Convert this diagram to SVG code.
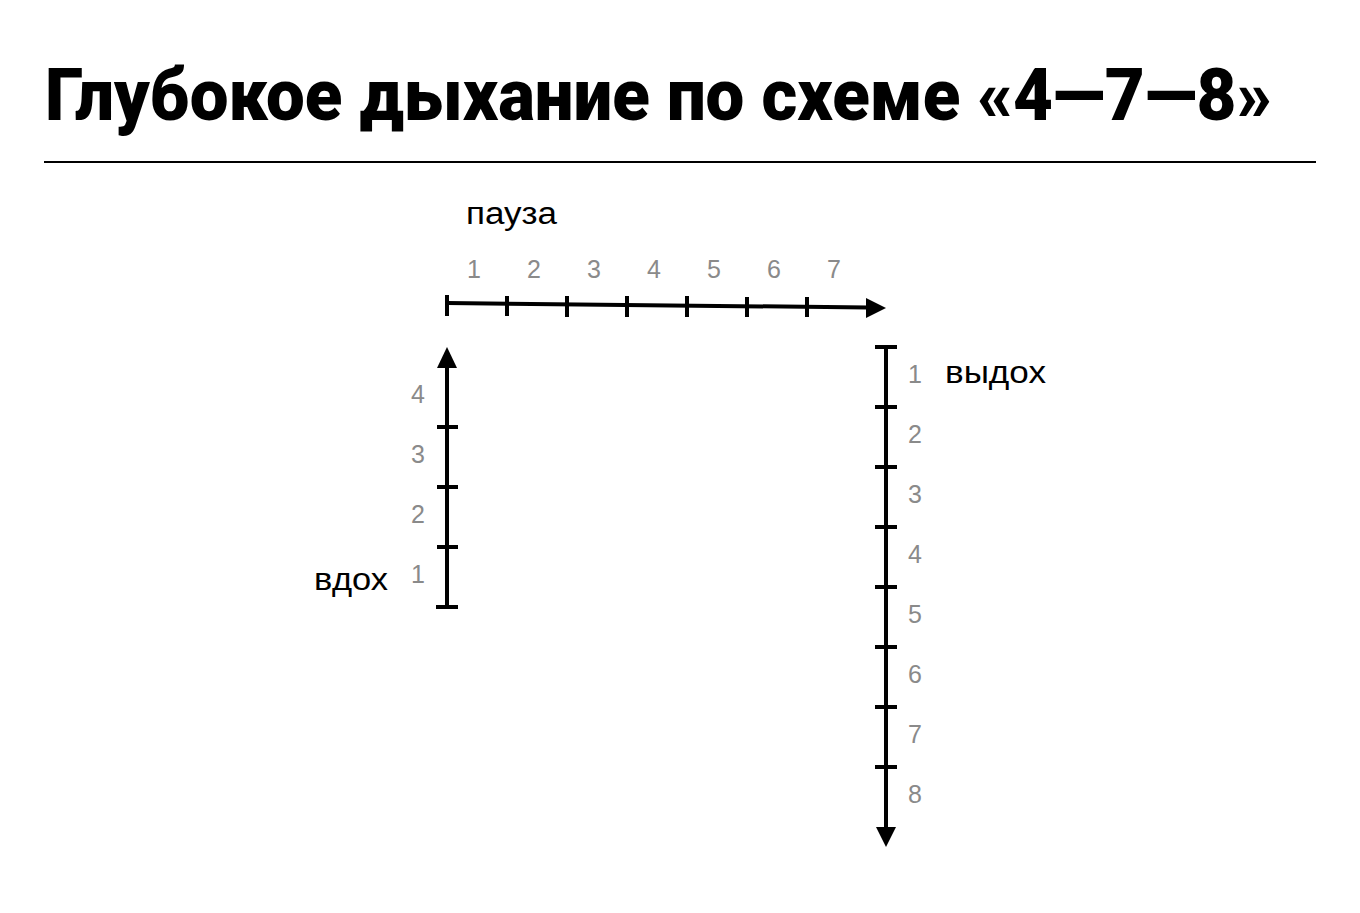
<svg xmlns="http://www.w3.org/2000/svg" width="1360" height="913" viewBox="0 0 1360 913">
<defs>
<style>
.title{font-family:Roboto,"Liberation Sans",sans-serif;font-weight:900;font-size:72px;fill:#000}
.lbl{font-family:"Liberation Sans",Arial,sans-serif;font-size:31px;fill:#000}
.num{font-family:"Liberation Sans",Arial,sans-serif;font-size:25px;fill:#8a8a8a;text-anchor:middle}
.ax{stroke:#000;stroke-width:4;fill:none}
.tk{stroke:#000;stroke-width:4}
.ah{fill:#000}
</style>
</defs>
<rect width="1360" height="913" fill="#fff"/>
<g id="title">
<text class="title" x="45" y="120" textLength="1227" lengthAdjust="spacingAndGlyphs">Глубокое дыхание по схеме «4—7—8»</text>
<line x1="44" y1="162" x2="1316" y2="162" stroke="#000" stroke-width="2"/>
</g>
<g id="connectors">
<g id="pause-axis">
<line class="ax" x1="447" y1="303" x2="868" y2="307.5"/>
<polygon class="ah" points="866,298 886,308 866,318"/>
<line class="tk" x1="447" y1="295" x2="447" y2="316"/>
<line class="tk" x1="507" y1="296" x2="507" y2="316"/>
<line class="tk" x1="567" y1="296" x2="567" y2="317"/>
<line class="tk" x1="627" y1="296" x2="627" y2="317"/>
<line class="tk" x1="687" y1="296" x2="687" y2="317"/>
<line class="tk" x1="747" y1="297" x2="747" y2="317"/>
<line class="tk" x1="807" y1="297" x2="807" y2="317"/>
</g>
<g id="inhale-axis">
<line class="ax" x1="447" y1="607" x2="447" y2="366"/>
<polygon class="ah" points="437,368 447,347 457,368"/>
<line class="tk" x1="436" y1="607" x2="458" y2="607"/>
<line class="tk" x1="437" y1="547" x2="458" y2="547"/>
<line class="tk" x1="437" y1="487" x2="458" y2="487"/>
<line class="tk" x1="437" y1="427" x2="458" y2="427"/>
</g>
<g id="exhale-axis">
<line class="ax" x1="886" y1="347" x2="886" y2="828"/>
<polygon class="ah" points="876,827 886,847 896,827"/>
<line class="tk" x1="875" y1="347" x2="897" y2="347"/>
<line class="tk" x1="875" y1="407" x2="897" y2="407"/>
<line class="tk" x1="875" y1="467" x2="897" y2="467"/>
<line class="tk" x1="875" y1="527" x2="897" y2="527"/>
<line class="tk" x1="875" y1="587" x2="897" y2="587"/>
<line class="tk" x1="875" y1="647" x2="897" y2="647"/>
<line class="tk" x1="875" y1="707" x2="897" y2="707"/>
<line class="tk" x1="875" y1="767" x2="897" y2="767"/>
</g>
</g>
<g id="pause-label">
<text class="lbl" x="466" y="224" textLength="91" lengthAdjust="spacingAndGlyphs">пауза</text>
<text class="num" x="474" y="278">1</text>
<text class="num" x="534" y="278">2</text>
<text class="num" x="594" y="278">3</text>
<text class="num" x="654" y="278">4</text>
<text class="num" x="714" y="278">5</text>
<text class="num" x="774" y="278">6</text>
<text class="num" x="834" y="278">7</text>
</g>
<g id="inhale-label">
<text class="lbl" x="314" y="590" textLength="74" lengthAdjust="spacingAndGlyphs">вдох</text>
<text class="num" x="418" y="403">4</text>
<text class="num" x="418" y="463">3</text>
<text class="num" x="418" y="523">2</text>
<text class="num" x="418" y="583">1</text>
</g>
<g id="exhale-label">
<text class="lbl" x="945" y="383" textLength="101" lengthAdjust="spacingAndGlyphs">выдох</text>
<text class="num" x="915" y="383">1</text>
<text class="num" x="915" y="443">2</text>
<text class="num" x="915" y="503">3</text>
<text class="num" x="915" y="563">4</text>
<text class="num" x="915" y="623">5</text>
<text class="num" x="915" y="683">6</text>
<text class="num" x="915" y="743">7</text>
<text class="num" x="915" y="803">8</text>
</g>
</svg>
